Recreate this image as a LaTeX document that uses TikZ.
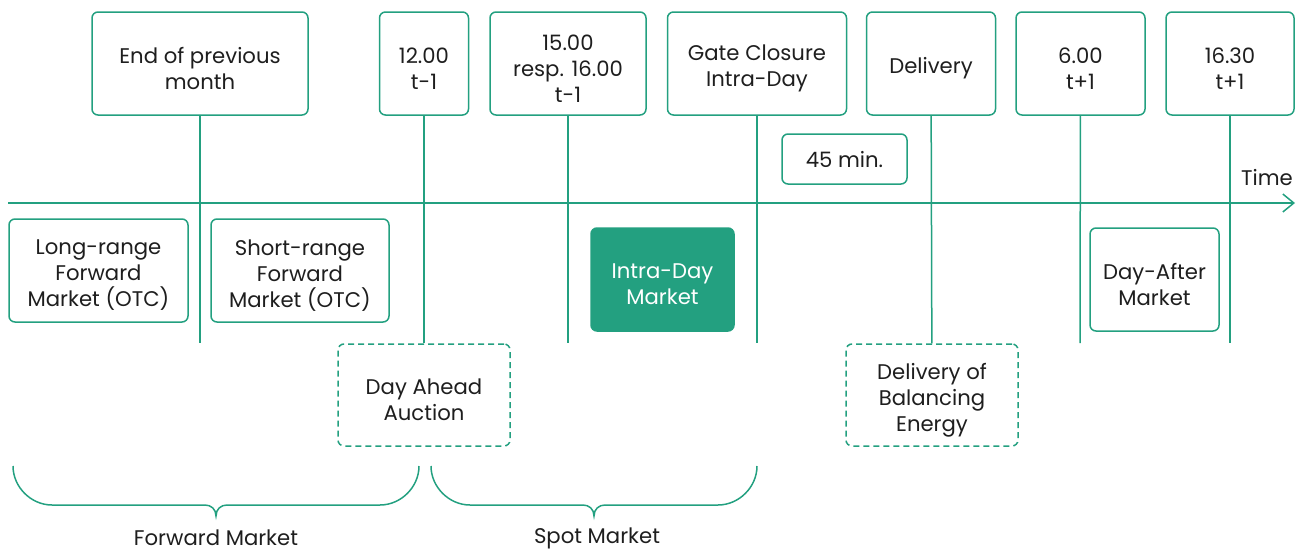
\documentclass[tikz,border=0pt]{standalone}
\usepackage{fontspec}
\setmainfont{Poppins}
\usetikzlibrary{positioning,arrows.meta}

\definecolor{mktgreen}{HTML}{23A080}
\definecolor{mkttext}{HTML}{1E1E1E}

\tikzset{
  plainbox/.style={draw=mktgreen, line width=0.75pt, rounded corners=3pt, align=center,
    inner sep=0pt, text=mkttext, font=\fontsize{10.6}{13}\selectfont},
  % push the text a bit below the middle of the box
  box/.style={plainbox,
    execute at begin node={\vbox\bgroup\vskip5pt\hbox\bgroup},
    execute at end node={\egroup\egroup}},
  topbox/.style={box, minimum height=51.5pt},
  marketbox/.style={box, minimum height=51.5pt},
  eventbox/.style={box, dash pattern=on 3pt off 2pt, minimum height=51pt},
  tick/.style={draw=mktgreen, line width=0.75pt},
  bracket/.style={draw=mktgreen, line width=0.75pt},
  caption/.style={text=mkttext, inner sep=0pt, font=\fontsize{10.6}{13}\selectfont}
}

\begin{document}
\begin{tikzpicture}[x=0.5pt, y=-0.5pt]
  \useasboundingbox (0,0) rectangle (1306,552);

  % time axis
  \coordinate (axisL) at (8,203);
  \coordinate (axisR) at (1295,203);
  \draw[tick, -{Straight Barb[length=5.5pt, width=9pt, line width=0.75pt]}] (axisL) -- (axisR);
  \node[caption] (time) at (1267,178) {Time};

  % points in time
  \node[topbox, minimum width=108pt] (month) at (200,63.5) {End of previous\\month};
  \node[topbox, minimum width=44.5pt] (noon) at (424,63.5) {12.00\\t-1};
  \node[topbox, minimum width=78pt] (spot) at (568,63.5) {15.00\\resp. 16.00\\t-1};
  \node[topbox, minimum width=89.5pt] (gate) at (757,63.5) {Gate Closure\\Intra-Day};
  \node[topbox, minimum width=64.5pt] (delivery) at (931,63.5) {Delivery};
  \node[topbox, minimum width=64.5pt] (six) at (1080.5,63.5) {6.00\\t+1};
  \node[topbox, minimum width=64pt] (half) at (1230,63.5) {16.30\\t+1};
  \node[plainbox, minimum width=62.5pt, minimum height=25pt] (lead) at (844.5,159) {45 min.};

  % markets
  \node[marketbox, minimum width=89.5pt] (longfwd) at (98.5,270.5) {Long-range\\Forward\\Market (OTC)};
  \node[marketbox, minimum width=89pt] (shortfwd) at (300,270.5) {Short-range\\Forward\\Market (OTC)};
  \node[marketbox, minimum width=71.5pt, fill=mktgreen, draw=mktgreen, text=white] (intraday) at (662.5,279.5) {Intra-Day\\Market};
  \node[marketbox, minimum width=64.5pt] (dayafter) at (1154.5,279.5) {Day-After\\Market};

  \node[eventbox, minimum width=86pt] (auction) at (424,395) {Day Ahead\\Auction};
  \node[eventbox, minimum width=86pt] (balancing) at (932,395) {Delivery of\\Balancing\\Energy};

  % drop lines
  \coordinate (monthend) at (200,343);
  \coordinate (spotend) at (568,343);
  \coordinate (gateend) at (757,343);
  \coordinate (sixend) at (1080,343);
  \coordinate (halfend) at (1230,343);
  \draw[tick] (month) -- (monthend);
  \draw[tick] (noon) -- (auction);
  \draw[tick] (spot) -- (spotend);
  \draw[tick] (gate) -- (gateend);
  \draw[tick] (delivery) -- (balancing);
  \draw[tick] (six) -- (sixend);
  \draw[tick] (half) -- (halfend);

  % market groups
  \draw[bracket] (13,466) .. controls (13,487) and (31,505) .. (52,505) -- (205,505)
    .. controls (211,505) and (216,509) .. (216,516)
    .. controls (216,509) and (221,505) .. (227,505) -- (380,505)
    .. controls (401,505) and (419,487) .. (419,466);
  \draw[bracket] (431,466) .. controls (431,487) and (449,505) .. (470,505) -- (583,505)
    .. controls (589,505) and (594,509) .. (594,516)
    .. controls (594,509) and (599,505) .. (605,505) -- (718,505)
    .. controls (739,505) and (757,487) .. (757,466);
  \node[caption] (fwdmarket) at (216,538) {Forward Market};
  \node[caption] (spotmarket) at (597,538) {Spot Market};
\end{tikzpicture}
\end{document}
